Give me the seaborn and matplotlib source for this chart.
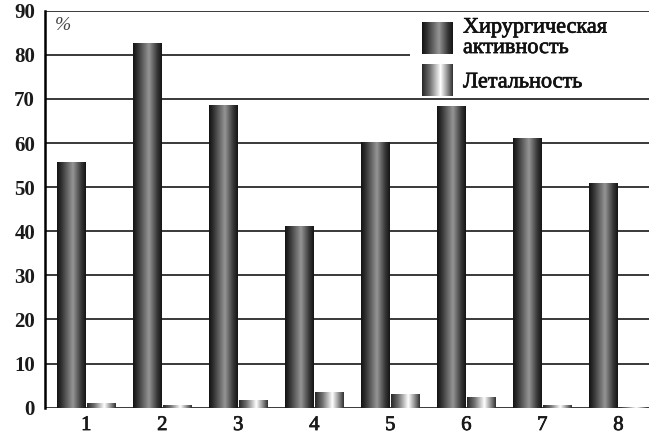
import numpy as np
import pandas as pd
import matplotlib
matplotlib.use("Agg")
import matplotlib.pyplot as plt
import seaborn as sns
from matplotlib.colors import LinearSegmentedColormap
from matplotlib.patches import Rectangle
from matplotlib.legend_handler import HandlerBase
from matplotlib.image import BboxImage
from matplotlib.transforms import Bbox, TransformedBbox
import matplotlib.patheffects as pe

# Data
groups = ["1", "2", "3", "4", "5", "6", "7", "8"]
activity = [55.8, 82.6, 68.6, 41.3, 60.2, 68.5, 61.2, 50.9]
lethality = [1.1, 0.5, 1.8, 3.6, 3.1, 2.4, 0.7, 0.2]
series_names = ["Хирургическая\nактивность", "Летальность"]
y_ticks = [0, 10, 20, 30, 40, 50, 60, 70, 80, 90]

df = pd.DataFrame({
    "group": groups * 2,
    "value": activity + lethality,
    "series": [series_names[0]] * len(groups) + [series_names[1]] * len(groups),
})

sns.set_theme(style="white")
plt.rcParams["font.family"] = ["Liberation Serif", "DejaVu Serif"]

# Cylindrical shading for the two series
dark_cmap = LinearSegmentedColormap.from_list(
    "dark_cyl",
    [(0.0, "#121212"), (0.15, "#303030"), (0.55, "#959595"), (0.85, "#343434"), (1.0, "#141414")],
)
light_cmap = LinearSegmentedColormap.from_list(
    "light_cyl",
    [(0.0, "#262626"), (0.25, "#6e6e6e"), (0.6, "#ffffff"), (0.8, "#9a9a9a"), (1.0, "#303030")],
)
grad = np.linspace(0, 1, 256).reshape(1, -1)
heavy = [pe.withStroke(linewidth=0.5, foreground="#111111")]

fig = plt.figure(figsize=(6.58, 4.42), dpi=100)
ax = fig.add_axes([0.068, 0.0776, 0.918, 0.8982])

sns.barplot(
    data=df, x="group", y="value", hue="series", order=groups,
    hue_order=series_names, palette=["#555555", "#bbbbbb"],
    width=0.8, gap=0.05, ax=ax, legend=False, linewidth=0,
)

# Paint each bar with its gradient, clipped to the bar shape
bars = [p for p in ax.patches if isinstance(p, Rectangle)]
n = len(groups)
for i, p in enumerate(bars):
    cmap = dark_cmap if i < n else light_cmap
    x0, w, h = p.get_x(), p.get_width(), p.get_height()
    if h <= 0:
        continue
    im = ax.imshow(grad, cmap=cmap, extent=[x0, x0 + w, 0, h],
                   aspect="auto", interpolation="bilinear", zorder=3)
    im.set_clip_path(p)
    p.set_zorder(2)

ax.set_aspect("auto")
ax.set_xlim(-0.546, 7.40)
ax.set_ylim(0, 90)
ax.set_yticks(y_ticks)
ax.set_yticklabels([str(t) for t in y_ticks], fontsize=15, fontweight="bold")
ax.set_xticks(range(n))
ax.set_xticklabels(groups, fontsize=15)
for lbl in ax.get_xticklabels():
    lbl.set_path_effects(heavy)
ax.set_xlabel("")
ax.set_ylabel("")

ax.set_axisbelow(True)
ax.yaxis.grid(True, color="#2a2a2a", linewidth=1.3)
ax.xaxis.grid(False)
for s in ["top", "right", "bottom"]:
    ax.spines[s].set_visible(False)
ax.spines["left"].set_color("black")
ax.spines["left"].set_linewidth(1.8)
ax.tick_params(axis="y", length=3, width=1.2, color="#2a2a2a", pad=4, labelcolor="#1a1a1a")
ax.tick_params(axis="x", length=0, pad=6, labelcolor="#1a1a1a")

ax.text(0.017, 0.985, "%", transform=ax.transAxes, fontsize=14, style="italic",
        color="#444444", ha="left", va="top")

# White panel behind the legend
ax.add_patch(Rectangle((0.604, 0.785), 0.40, 0.211, transform=ax.transAxes,
                       facecolor="white", edgecolor="none", zorder=4, clip_on=False))


class GradientHandler(HandlerBase):
    def __init__(self, cmap):
        super().__init__()
        self.cmap = cmap

    def create_artists(self, legend, orig_handle, xdescent, ydescent,
                       width, height, fontsize, trans):
        bb = TransformedBbox(Bbox.from_bounds(-xdescent, -ydescent, width, height), trans)
        img = BboxImage(bb, cmap=self.cmap, interpolation="bilinear")
        img.set_data(grad)
        return [img]


h_dark = Rectangle((0, 0), 1, 1)
h_light = Rectangle((0, 0), 1, 1)
leg = ax.legend(
    [h_dark, h_light], series_names,
    handler_map={h_dark: GradientHandler(dark_cmap), h_light: GradientHandler(light_cmap)},
    loc="upper left", bbox_to_anchor=(0.624, 0.980), fontsize=16,
    frameon=False,
    handlelength=1.36, handleheight=1.77, handletextpad=0.5, labelspacing=0.3,
    borderpad=0.0, borderaxespad=0.0,
)
leg.set_zorder(5)
for t in leg.get_texts():
    t.set_linespacing(1.1)
    t.set_color("#111111")
    t.set_path_effects(heavy)

fig.savefig("out.png", dpi=100)
